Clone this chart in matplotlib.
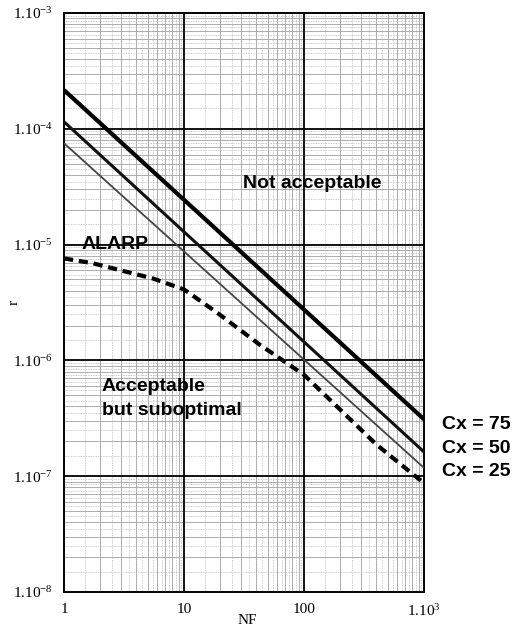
import numpy as np
import matplotlib
matplotlib.use("Agg")
import matplotlib.pyplot as plt

# Risk limit lines for each Cx value (straight on log-log axes)
nf_ends = [1, 1000]
r_cx75 = [2.16e-4, 3.1e-7]
r_cx50 = [1.15e-4, 1.62e-7]
r_cx25 = [7.5e-5, 1.18e-7]

# ALARP boundary
nf_alarp = [1, 1.74, 5.5, 10, 18.7, 43, 100, 405, 1000]
r_alarp = [7.6e-6, 6.9e-6, 5.1e-6, 4.1e-6, 2.6e-6, 1.36e-6, 7.5e-7, 1.86e-7, 8.7e-8]

cx_labels = ["Cx = 75", "Cx = 50", "Cx = 25"]
cx_label_r = [2.77e-7, 1.75e-7, 1.09e-7]

x_ticks = [1, 10, 100, 1000]
x_ticklabels = ["1", "10", "100", r"$\mathregular{1.10^{3}}$"]
y_ticks = [1e-8, 1e-7, 1e-6, 1e-5, 1e-4, 1e-3]
y_ticklabels = [r"$\mathregular{1.10^{%d}}$" % e for e in range(-8, -2)]

serif = "Liberation Serif"
sans = "Liberation Sans"

fig = plt.figure(figsize=(5.13, 6.29), dpi=100)
ax = fig.add_axes([0.1248, 0.0588, 0.7018, 0.9205])
ax.set_xscale("log")
ax.set_yscale("log")
ax.set_xlim(1, 1000)
ax.set_ylim(1e-8, 1e-3)

# graph-paper grid: fine dotted, minor solid, decades bold
for d in range(3):
    for m in np.arange(1.5, 10, 1.0):
        ax.axvline(m * 10**d, color="#bdbdbd", lw=0.6, ls=(0, (1, 1)), zorder=0)
    for m in range(2, 10):
        ax.axvline(m * 10**d, color="#a0a0a0", lw=0.6, zorder=0)
for d in range(-8, -3):
    for m in np.arange(1.5, 10, 1.0):
        ax.axhline(m * 10.0**d, color="#bdbdbd", lw=0.6, ls=(0, (1, 1)), zorder=0)
    for m in range(2, 10):
        ax.axhline(m * 10.0**d, color="#a0a0a0", lw=0.6, zorder=0)
for x in x_ticks[1:-1]:
    ax.axvline(x, color="black", lw=1.3, zorder=1)
for y in y_ticks[1:-1]:
    ax.axhline(y, color="black", lw=1.3, zorder=1)

ax.plot(nf_ends, r_cx75, color="black", lw=3.0, solid_capstyle="butt", zorder=3)
ax.plot(nf_ends, r_cx50, color="#111111", lw=2.2, solid_capstyle="butt", zorder=3)
ax.plot(nf_ends, r_cx25, color="#444444", lw=1.3, solid_capstyle="butt", zorder=3)
ax.plot(nf_alarp, r_alarp, color="black", lw=3.0, ls=(0, (2.2, 1.4)), zorder=3)

for s in ax.spines.values():
    s.set_linewidth(1.4)

ax.tick_params(which="both", length=0, pad=8)
ax.xaxis.set_minor_locator(matplotlib.ticker.NullLocator())
ax.yaxis.set_minor_locator(matplotlib.ticker.NullLocator())
ax.set_xticks(x_ticks)
ax.set_xticklabels(x_ticklabels, fontfamily=serif, fontsize=11)
ax.set_yticks(y_ticks)
ax.set_yticklabels(y_ticklabels, fontfamily=serif, fontsize=11)

# axis titles placed on the figure so they stay inside the canvas
fig.text(247 / 513, 1 - 620 / 629, "NF", fontfamily=serif, fontsize=11,
         ha="center", va="center")
fig.text(14 / 513, 1 - 302 / 629, "r", fontfamily=serif, fontsize=11,
         rotation=90, ha="center", va="center")

bold = dict(fontfamily=sans, fontweight="bold", fontsize=14, zorder=4)
ax.text(31, 3.4e-5, "Not acceptable", ha="left", va="center", **bold)
ax.text(1.41, 1.0e-5, "ALARP", ha="left", va="center", **bold)
ax.text(2.07, 5.9e-7, "Acceptable", ha="left", va="center", **bold)
ax.text(2.07, 3.73e-7, "but suboptimal", ha="left", va="center", **bold)
for lab, r in zip(cx_labels, cx_label_r):
    ax.text(1413, r, lab, ha="left", va="center", clip_on=False, **bold)

fig.savefig("out.png", dpi=100)
